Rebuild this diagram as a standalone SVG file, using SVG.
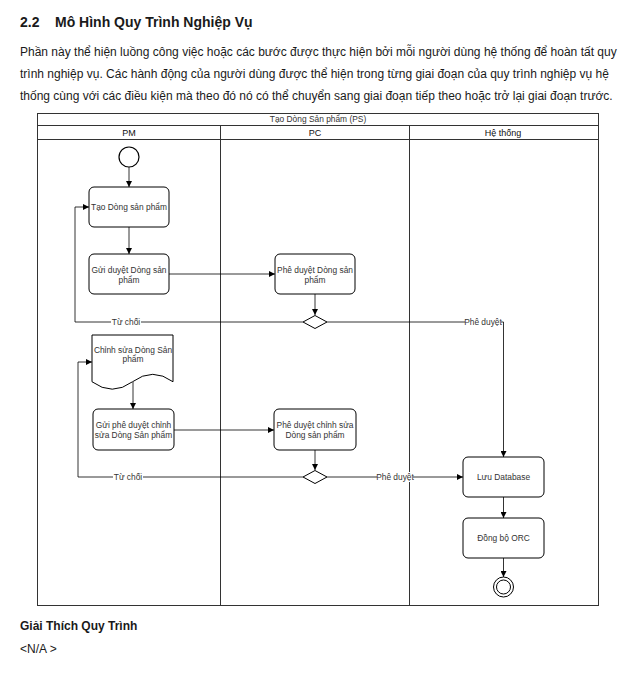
<svg xmlns="http://www.w3.org/2000/svg" width="625" height="677" viewBox="0 0 625 677">
<style>
  .doc { font-family: "Liberation Sans", Arial, sans-serif; fill: #1a1a1a; }
  .h { font-size: 14px; font-weight: bold; }
  .p { font-size: 12px; }
  .fb { font-size: 12px; font-weight: bold; }
  .lane { fill: none; stroke: #333; stroke-width: 1; }
  .t { font-family: "Liberation Sans", Arial, sans-serif; font-size: 8.4px; fill: #333; text-anchor: middle; }
  .hd { font-size: 9px; fill: #111; }
  .box { fill: #fff; stroke: #000; stroke-width: 1; }
  .con { fill: none; stroke: #000; stroke-width: 0.8; }
  .lbl { fill: #fff; }
</style>
<defs>
  <marker id="ah" viewBox="0 0 8 8" refX="8" refY="4" markerWidth="6" markerHeight="6" orient="auto" markerUnits="userSpaceOnUse">
    <path d="M0,0 L8,4 L0,8 Z" fill="#000"/>
  </marker>
</defs>
<rect width="625" height="677" fill="#fff"/>

<g id="header">
  <text class="doc h" x="20" y="27">2.2</text>
  <text class="doc h" x="55" y="27">Mô Hình Quy Trình Nghiệp Vụ</text>
  <text class="doc p" x="20" y="56">Phần này thể hiện luồng công việc hoặc các bước được thực hiện bởi mỗi người dùng hệ thống để hoàn tất quy</text>
  <text class="doc p" x="20" y="78">trình nghiệp vụ. Các hành động của người dùng được thể hiện trong từng giai đoạn của quy trình nghiệp vụ hệ</text>
  <text class="doc p" x="20" y="100">thống cùng với các điều kiện mà theo đó nó có thể chuyển sang giai đoạn tiếp theo hoặc trở lại giai đoạn trước.</text>
</g>

<g id="pool">
  <rect class="lane" x="37.5" y="113.5" width="561" height="492"/>
  <line class="lane" x1="37.5" y1="125.5" x2="598.5" y2="125.5"/>
  <line class="lane" x1="37.5" y1="139.5" x2="598.5" y2="139.5"/>
  <line class="lane" x1="220.5" y1="125.5" x2="220.5" y2="605.5"/>
  <line class="lane" x1="409.5" y1="125.5" x2="409.5" y2="605.5"/>
  <text class="t" x="318" y="122">Tạo Dòng Sản phẩm (PS)</text>
  <text class="t hd" x="129" y="135.5">PM</text>
  <text class="t hd" x="315" y="135.5">PC</text>
  <text class="t hd" x="503" y="135.5">Hệ thống</text>
</g>

<g id="connectors">
  <line class="con" x1="129" y1="167" x2="129" y2="187" marker-end="url(#ah)"/>
  <line class="con" x1="129" y1="227" x2="129" y2="254" marker-end="url(#ah)"/>
  <line class="con" x1="169" y1="274" x2="275" y2="274" marker-end="url(#ah)"/>
  <line class="con" x1="315" y1="294" x2="315" y2="315" marker-end="url(#ah)"/>
  <polyline class="con" points="303,322 75,322 75,207 89,207" marker-end="url(#ah)"/>
  <polyline class="con" points="327,322 503.5,322 503.5,457" marker-end="url(#ah)"/>
  <line class="con" x1="133" y1="382" x2="133" y2="409" marker-end="url(#ah)"/>
  <line class="con" x1="174" y1="430" x2="274" y2="430" marker-end="url(#ah)"/>
  <line class="con" x1="315" y1="450" x2="315" y2="470" marker-end="url(#ah)"/>
  <polyline class="con" points="303,477 78,477 78,362 92,362" marker-end="url(#ah)"/>
  <line class="con" x1="327" y1="477" x2="463" y2="477" marker-end="url(#ah)"/>
  <line class="con" x1="503.5" y1="497" x2="503.5" y2="518" marker-end="url(#ah)"/>
  <line class="con" x1="503.5" y1="558" x2="503.5" y2="577" marker-end="url(#ah)"/>
  <rect class="lbl" x="111" y="317" width="30" height="10"/>
  <text class="t" x="126" y="325">Từ chối</text>
  <rect class="lbl" x="465" y="317" width="36" height="10"/>
  <text class="t" x="483" y="325">Phê duyệt</text>
  <rect class="lbl" x="113" y="472" width="30" height="10"/>
  <text class="t" x="128" y="480">Từ chối</text>
  <rect class="lbl" x="377" y="472" width="36" height="10"/>
  <text class="t" x="395" y="480">Phê duyệt</text>
</g>

<g id="start">
  <circle cx="129" cy="157" r="10" fill="#fff" stroke="#000" stroke-width="1.2"/>
</g>
<g id="tao-dong-san-pham">
  <rect class="box" x="89" y="187" width="80" height="40" rx="5"/>
  <text class="t" x="129" y="210">Tạo Dòng sản phẩm</text>
</g>
<g id="gui-duyet">
  <rect class="box" x="89" y="254" width="80" height="40" rx="5"/>
  <text class="t" x="129" y="273">Gửi duyệt Dòng sản</text>
  <text class="t" x="129" y="283">phẩm</text>
</g>
<g id="phe-duyet">
  <rect class="box" x="275" y="254" width="80" height="40" rx="5"/>
  <text class="t" x="315" y="273">Phê duyệt Dòng sản</text>
  <text class="t" x="315" y="283">phẩm</text>
</g>
<g id="decision1">
  <polygon class="box" points="303,322 315,315.5 327,322 315,328.5"/>
</g>
<g id="chinh-sua">
  <path class="box" d="M92,335 H173 V381.75 Q152.75,366.9 132.5,381.75 Q112.25,396.6 92,381.75 Z"/>
  <text class="t" x="133" y="353">Chỉnh sửa Dòng Sản</text>
  <text class="t" x="133" y="362">phẩm</text>
</g>
<g id="gui-phe-duyet-chinh-sua">
  <rect class="box" x="93" y="409" width="81" height="41" rx="5"/>
  <text class="t" x="133.5" y="428">Gửi phê duyệt chỉnh</text>
  <text class="t" x="133.5" y="438">sửa Dòng Sản phẩm</text>
</g>
<g id="phe-duyet-chinh-sua">
  <rect class="box" x="274" y="409" width="82" height="41" rx="5"/>
  <text class="t" x="315" y="428">Phê duyệt chỉnh sửa</text>
  <text class="t" x="315" y="438">Dòng sản phẩm</text>
</g>
<g id="decision2">
  <polygon class="box" points="303,477 315,470.5 327,477 315,483.5"/>
</g>
<g id="luu-database">
  <rect class="box" x="463" y="457" width="81" height="40" rx="5"/>
  <text class="t" x="503.5" y="480">Lưu Database</text>
</g>
<g id="dong-bo-orc">
  <rect class="box" x="463" y="518" width="81" height="40" rx="5"/>
  <text class="t" x="503.5" y="541">Đồng bộ ORC</text>
</g>
<g id="end">
  <circle cx="503.5" cy="587" r="10" fill="#fff" stroke="#000" stroke-width="1"/>
  <circle cx="503.5" cy="587" r="7" fill="#fff" stroke="#000" stroke-width="1"/>
</g>

<g id="footer">
  <text class="doc fb" x="20" y="630">Giải Thích Quy Trình</text>
  <text class="doc p" x="20" y="653">&lt;N/A &gt;</text>
</g>
</svg>
